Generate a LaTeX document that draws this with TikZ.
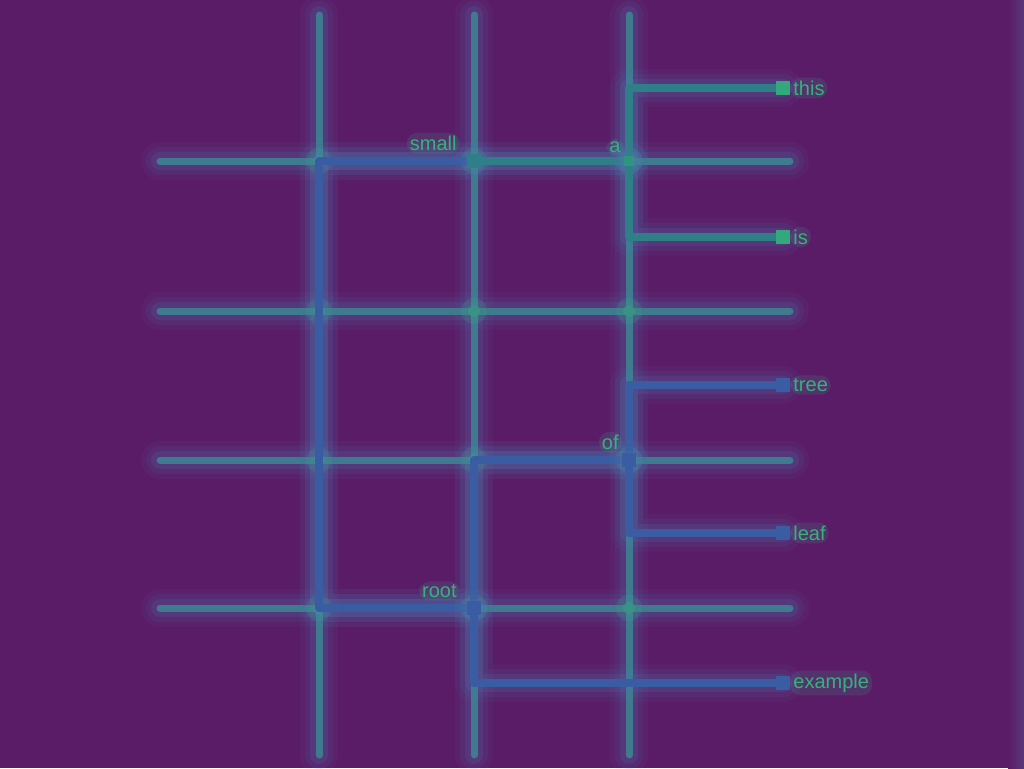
\documentclass[tikz,border=0pt]{standalone}
\usepackage{fontspec}
\setmainfont{Liberation Sans}
\usetikzlibrary{positioning,calc}
\definecolor{ground}{HTML}{5A1C66}
\definecolor{haze}{HTML}{4C7DB0}
\definecolor{wire}{HTML}{3F7A8E}
\definecolor{branch}{HTML}{3A5CA2}
\definecolor{twig}{HTML}{2F7F88}
\definecolor{leafgreen}{HTML}{35B27A}
\pgfdeclarelayer{bg}
\pgfdeclarelayer{mid}
\pgfsetlayers{bg,mid,main}

\begin{document}
\begin{tikzpicture}[x=1pt,y=-1pt,
  glow/.style={line join=round,preaction={draw=haze,line width=38,opacity=.07,line cap=round,line join=round},preaction={draw=haze,line width=28,opacity=.1,line cap=round,line join=round},preaction={draw=haze,line width=18,opacity=.16,line cap=round,line join=round}},
  wire/.style={glow,draw=wire,line width=7,line cap=round},
  branch/.style={glow,draw=branch,line width=8},
  twig/.style={glow,draw=twig,line width=8},
  knot/.style={fill=#1,minimum size=14,inner sep=0},
  tag/.style={font=\fontsize{20}{22}\selectfont,text=leafgreen,inner sep=3,fill=leafgreen!60!haze,fill opacity=.18,text opacity=1,rounded corners=10}]
\useasboundingbox (0,0) rectangle (1024,768);
\begin{pgfonlayer}{bg}
\fill[ground] (0,0) rectangle (1024,768);
\shade[left color=ground,right color=ground!70!haze] (1008,0) rectangle (1024,768);
\foreach \x in {319,474,629} \draw[wire] (\x,15)--(\x,755);
\foreach \y in {161,311,460,608} \draw[wire] (160,\y)--(790,\y);
\foreach \x in {319,474,629} \foreach \y in {161,311,460,608} {
  \fill[leafgreen,opacity=.18] (\x,\y) circle (13);
  \fill[leafgreen,opacity=.3] (\x,\y) circle (6);}
\end{pgfonlayer}

\node[knot=branch,label={[tag,xshift=-7]above left:root}] (root) at (474,608) {};
\node[knot=twig,label={[tag,xshift=-7]above left:small}] (small) at (474,161) {};
\node[knot=twig!60!leafgreen,minimum size=10,label={[tag]above left:a}] (a) at (629,161) {};
\node[knot=branch,label={[tag]above left:of}] (of) at (629,460) {};
\node[knot=leafgreen!80!twig,label={[tag]right:this}] (this) at (783,88) {};
\node[knot=leafgreen!80!twig,label={[tag]right:is}] (is) at (783,237) {};
\node[knot=branch,label={[tag]right:tree}] (tree) at (783,385) {};
\node[knot=branch,label={[tag]right:leaf}] (leaf) at (783,533) {};
\node[knot=branch,label={[tag]right:example}] (example) at (783,683) {};

\begin{pgfonlayer}{mid}
\draw[branch] (root.center)--++(-155,0)|-(small.center);
\draw[branch] (root.center)|-(of.center);
\draw[branch] (root.center)|-(example.center);
\draw[branch] (of.center)|-(tree.center);
\draw[branch] (of.center)|-(leaf.center);
\draw[twig] (small.center)--(a.center);
\draw[twig] (a.center)|-(this.center);
\draw[twig] (a.center)|-(is.center);
\end{pgfonlayer}
\end{tikzpicture}
\end{document}
